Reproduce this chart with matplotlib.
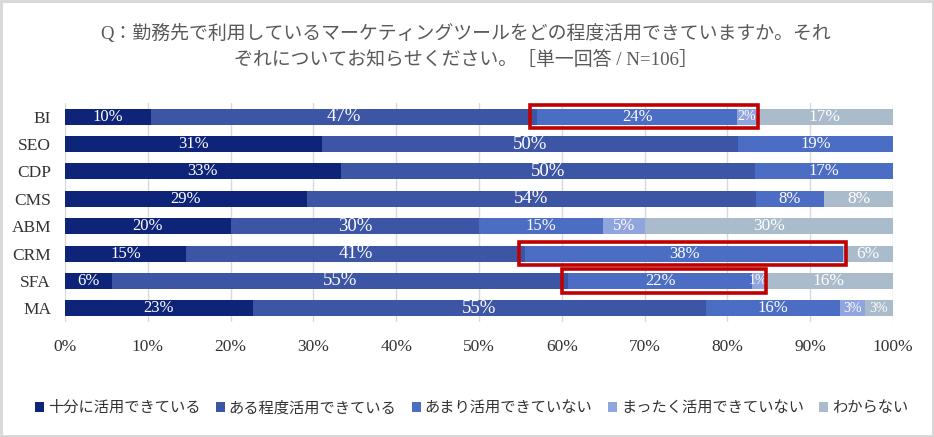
import matplotlib
matplotlib.use("Agg")
import matplotlib.pyplot as plt
import matplotlib.patches as mpatches
import numpy as np

plt.rcParams['font.family'] = ['Liberation Serif', 'Noto Sans CJK JP', 'DejaVu Sans']

categories = ["BI", "SEO", "CDP", "CMS", "ABM", "CRM", "SFA", "MA"]
series_names = ["十分に活用できている", "ある程度活用できている", "あまり活用できていない",
                "まったく活用できていない", "わからない"]
s_full     = [10.4, 31.0, 33.3, 29.2, 20.0, 14.6, 5.7, 22.7]
s_some     = [46.6, 50.3, 50.0, 54.2, 30.0, 41.0, 55.1, 54.7]
s_little   = [24.2, 18.7, 16.7, 8.3, 15.0, 38.4, 22.2, 16.2]
s_none     = [2.2, 0.0, 0.0, 0.0, 5.0, 0.0, 1.4, 3.0]
s_unknown  = [16.6, 0.0, 0.0, 8.3, 30.0, 6.0, 15.6, 3.4]
xtick_vals = [0, 10, 20, 30, 40, 50, 60, 70, 80, 90, 100]
# highlighted (category, first series index, last series index)
highlights = [("BI", 2, 3), ("CRM", 2, 2), ("SFA", 2, 3)]

colors = ["#0e2479", "#3d55a5", "#4b6dc3", "#90a4dd", "#aabbcb"]
label_sizes = [12, 13.5, 12, 12, 12.5]
title1 = "Q：勤務先で利用しているマーケティングツールをどの程度活用できていますか。それ"
title2 = "ぞれについてお知らせください。［単一回答 / N=106］"

data = np.array([s_full, s_some, s_little, s_none, s_unknown])

fig = plt.figure(figsize=(9.34, 4.37), dpi=100)
ax = fig.add_axes([65/934, 1-322/437, (893-65)/934, (322-103)/437])

y = np.arange(len(categories))
left = np.zeros(len(categories))
for k in range(data.shape[0]):
    vals = data[k]
    ax.barh(y, vals, left=left, height=0.58, color=colors[k], label=series_names[k], zorder=2)
    for i, v in enumerate(vals):
        if v > 0:
            fs = label_sizes[k] if v >= 4 else 10
            ax.text(left[i] + v/2, y[i], f"{v:.0f}%", ha='center', va='center',
                    color='white', fontsize=fs, zorder=4)
    left = left + vals

cum = np.vstack([np.zeros(len(categories)), np.cumsum(data, axis=0)])
for cat, a, b in highlights:
    i = categories.index(cat)
    x0 = cum[a, i] - 0.8
    x1 = cum[b + 1, i] + 0.3
    r = mpatches.Rectangle((x0, y[i] - 0.43), x1 - x0, 0.86, fill=False,
                           edgecolor='#c00000', linewidth=2.6, zorder=5)
    ax.add_patch(r)

ax.set_xlim(0, 100)
ax.set_ylim(len(categories) - 0.5, -0.5)
ax.set_xticks(xtick_vals)
ax.set_xticklabels([f"{v}%" for v in xtick_vals], fontsize=12.5, color='#333333')
ax.set_yticks(y)
ax.set_yticklabels(categories, fontsize=12.5, color='#333333')
ax.tick_params(axis='both', length=0)
ax.tick_params(axis='x', pad=12)
ax.tick_params(axis='y', pad=10)
ax.grid(axis='x', color='#d9d9d9', linewidth=1, zorder=0)
for s in ax.spines.values():
    s.set_visible(False)

fig.text(0.4985, 1-33/437, title1, ha='center', va='center', fontsize=13.6, color='#595959')
fig.text(0.4985, 1-60/437, title2, ha='center', va='center', fontsize=13.6, color='#595959')

leg = fig.legend(loc='center', bbox_to_anchor=(0.505, 1-408/437), ncol=5, frameon=False,
                 fontsize=11, handlelength=0.6, handleheight=0.6, handletextpad=0.25,
                 columnspacing=1.0, labelcolor='#333333')

fig.patches.append(mpatches.Rectangle((0.001, 0.002), 0.998, 0.996, transform=fig.transFigure,
                                      fill=False, edgecolor='#d6d6d6', linewidth=2))

fig.savefig("out.png", dpi=100)
